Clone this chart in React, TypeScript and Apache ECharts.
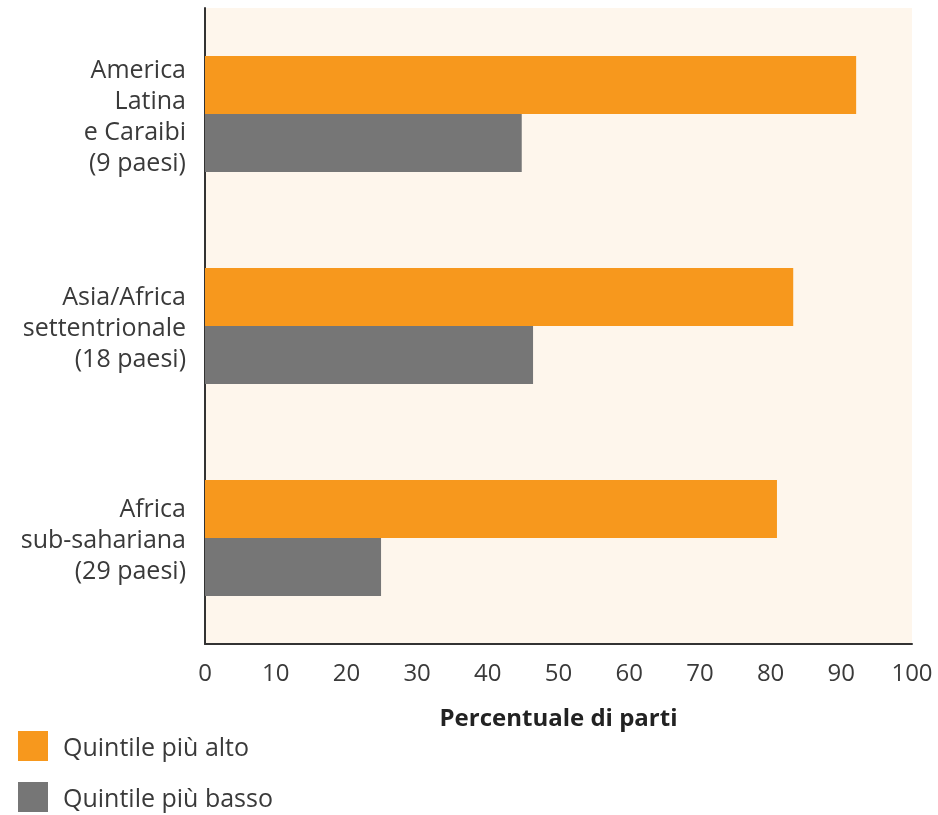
import React, { useEffect, useRef } from "react";
import * as echarts from "echarts";

const categories = [
  "America\nLatina\ne Caraibi\n(9 paesi)",
  "Asia/Africa\nsettentrionale\n(18 paesi)",
  "Africa\nsub-sahariana\n(29 paesi)",
];
const highest = [92.1, 83.2, 80.9];
const lowest = [44.8, 46.4, 24.9];
const seriesNames = ["Quintile più alto", "Quintile più basso"];
const xTicks = [0, 10, 20, 30, 40, 50, 60, 70, 80, 90, 100];

const FONT = "'Open Sans', sans-serif";
const TEXT = "#3a3a3a";

export default function App() {
  const ref = useRef<HTMLDivElement>(null);
  useEffect(() => {
    if (!ref.current) return;
    const chart = echarts.init(ref.current, undefined, { renderer: "svg" });
    chart.setOption({
      animation: false,
      textStyle: { fontFamily: FONT },
      grid: {
        left: 205,
        right: 26,
        top: 8,
        bottom: 171,
        show: true,
        backgroundColor: "#fef6ec",
        borderWidth: 0,
      },
      legend: {
        orient: "vertical",
        left: 18,
        top: 731,
        padding: 0,
        itemWidth: 30,
        itemHeight: 30,
        itemGap: 21,
        icon: "rect",
        data: seriesNames,
        textStyle: { fontFamily: FONT, fontSize: 25, color: TEXT, padding: [0, 0, 0, 10] },
      },
      xAxis: {
        type: "value",
        min: xTicks[0],
        max: xTicks[xTicks.length - 1],
        interval: 10,
        name: "Percentuale di parti",
        nameLocation: "middle",
        nameGap: 60,
        nameTextStyle: { fontFamily: FONT, fontSize: 24, fontWeight: "bold", color: "#222" },
        axisLine: { show: true, lineStyle: { color: "#333", width: 2 } },
        axisTick: { show: false },
        splitLine: { show: false },
        axisLabel: { fontFamily: FONT, fontSize: 24, color: TEXT, margin: 15 },
      },
      yAxis: {
        type: "category",
        inverse: true,
        data: categories,
        axisLine: { show: true, lineStyle: { color: "#333", width: 2 } },
        axisTick: { show: false },
        axisLabel: {
          fontFamily: FONT,
          fontSize: 25,
          lineHeight: 31,
          color: TEXT,
          align: "right",
          margin: 19,
        },
      },
      series: [
        {
          name: seriesNames[0],
          type: "bar",
          data: highest,
          barWidth: 58,
          barGap: "0%",
          itemStyle: { color: "#f7981d" },
        },
        {
          name: seriesNames[1],
          type: "bar",
          data: lowest,
          barWidth: 58,
          barGap: "0%",
          itemStyle: { color: "#767676" },
        },
      ],
    });
    return () => chart.dispose();
  }, []);
  return (
    <div
      ref={ref}
      style={{ position: "fixed", left: 0, top: 0, width: 938, height: 815 }}
    />
  );
}
